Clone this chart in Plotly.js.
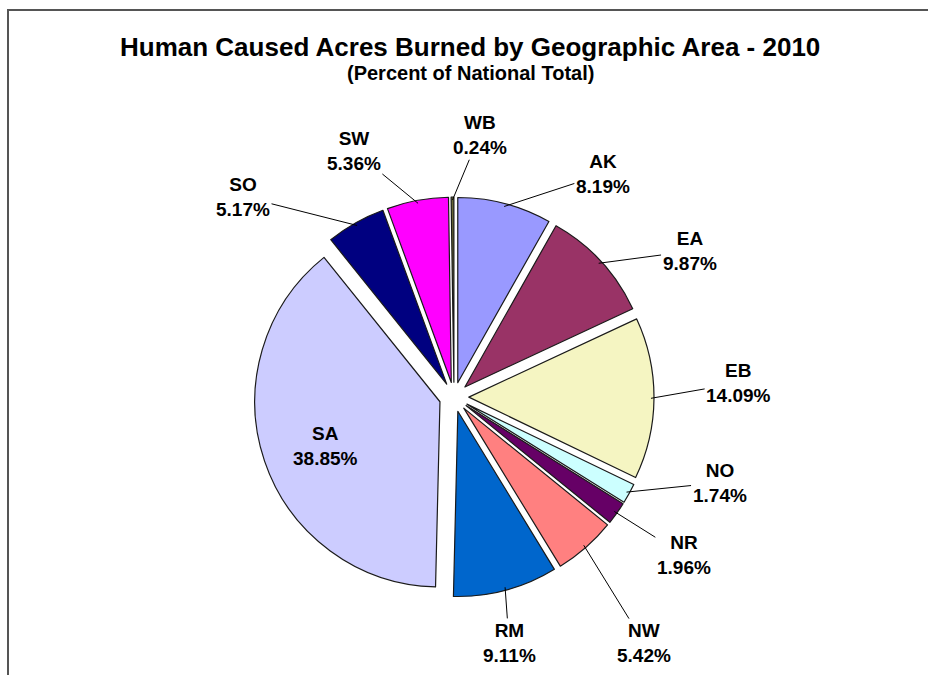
<!DOCTYPE html>
<html>
<head>
<meta charset="utf-8">
<script src="https://cdn.plot.ly/plotly-3.0.1.min.js"></script>
<style>
  html, body { margin: 0; padding: 0; background: #fff; }
  #wrap { position: relative; width: 928px; height: 675px; overflow: hidden; }
  #chart { position: absolute; left: 0; top: 0; width: 928px; height: 675px; }
  #frame { position: absolute; left: 7px; top: 9px; width: 1000px; height: 1000px;
           border-top: 2px solid #555; border-left: 2px solid #555; pointer-events: none; }
</style>
</head>
<body>
<div id="wrap"><div id="chart"></div><div id="frame"></div></div>
<script>
// ---- data ----
const areas   = ["AK", "EA", "EB", "NO", "NR", "NW", "RM", "SA", "SO", "SW", "WB"];
const percent = [8.19, 9.87, 14.09, 1.74, 1.96, 5.42, 9.11, 38.85, 5.17, 5.36, 0.24];
const colors  = ["#9999FF", "#993366", "#F5F5C2", "#CCFFFF", "#660066", "#FF8080",
                 "#0066CC", "#CCCCFF", "#000080", "#FF00FF", "#666633"];
const titleText    = "Human Caused Acres Burned by Geographic Area - 2010";
const subtitleText = "(Percent of National Total)";

// ---- label placement config (angle shift in degrees, distance in px from centre) ----
const labelShift  = [19, 11, -3.2, -11, -1, 3.5, 2.4, 0, -17, -11.6, 6];
const labelRadius = [268, 277, 285, 279, 279, 311, 252, 0, 291, 266, 263];
const insideLabel = "SA";

const W = 928, H = 675;
const M = {l: 254, r: 274, t: 197, b: 78};
const pw = W - M.l - M.r, ph = H - M.t - M.b;
const pull = 0.08;
const cx = M.l + pw / 2, cy = M.t + ph / 2;
const r = Math.min(pw, ph) / 2 / (1 + pull);
const labelFont = {family: "Liberation Sans, Arial", size: 19, color: "#000"};

const total = percent.reduce((a, b) => a + b, 0);
const annotations = [];
let cum = 0;
percent.forEach((v, i) => {
  const mid = (cum + v / 2) / total;
  cum += v;
  const th = mid * 2 * Math.PI;
  const ox = r * pull * Math.sin(th), oy = -r * pull * Math.cos(th);
  const txt = "<b>" + areas[i] + "</b><br><b>" + percent[i].toFixed(2) + "%</b>";
  if (areas[i] === insideLabel) {
    const la = th + 2 * Math.PI / 180;
    const lx = cx + ox + 0.84 * r * Math.sin(la), ly = cy + oy - 0.84 * r * Math.cos(la);
    annotations.push({x: (lx - M.l) / pw, y: 1 - (ly - M.t) / ph, xref: "paper", yref: "paper",
      text: txt, showarrow: false, font: labelFont});
    return;
  }
  const pr = r * (1 + pull) - 3;
  const px = cx + pr * Math.sin(th), py = cy - pr * Math.cos(th);
  const la = th + labelShift[i] * Math.PI / 180;
  const lx = cx + labelRadius[i] * Math.sin(la), ly = cy - labelRadius[i] * Math.cos(la);
  annotations.push({
    x: (px - M.l) / pw, y: 1 - (py - M.t) / ph, xref: "paper", yref: "paper",
    ax: lx - px, ay: ly - py, text: txt, showarrow: true, arrowhead: 0, arrowwidth: 1,
    arrowcolor: "#000", standoff: 0, startstandoff: 0, font: labelFont
  });
});

// title and subtitle
annotations.push({
  x: (470 - M.l) / pw, y: 1 - (47 - M.t) / ph, xref: "paper", yref: "paper",
  xanchor: "center", yanchor: "middle", showarrow: false,
  text: "<b>" + titleText + "</b>",
  font: {family: "Liberation Sans, Arial", size: 26, color: "#000"}
});
annotations.push({
  x: (470 - M.l) / pw, y: 1 - (73 - M.t) / ph, xref: "paper", yref: "paper",
  xanchor: "center", yanchor: "middle", showarrow: false,
  text: "<b>" + subtitleText + "</b>",
  font: {family: "Liberation Sans, Arial", size: 20, color: "#000"}
});

const trace = {
  type: "pie",
  labels: areas,
  values: percent,
  sort: false,
  direction: "clockwise",
  rotation: 0,
  pull: percent.map(() => pull),
  marker: {colors: colors, line: {color: "#1a1a1a", width: 1.2}},
  textinfo: "none",
  hoverinfo: "label+percent",
  showlegend: false
};

const layout = {
  width: W, height: H,
  margin: M,
  paper_bgcolor: "#fff",
  plot_bgcolor: "#fff",
  showlegend: false,
  annotations: annotations
};

Plotly.newPlot("chart", [trace], layout, {displayModeBar: false, staticPlot: true});
</script>
</body>
</html>
